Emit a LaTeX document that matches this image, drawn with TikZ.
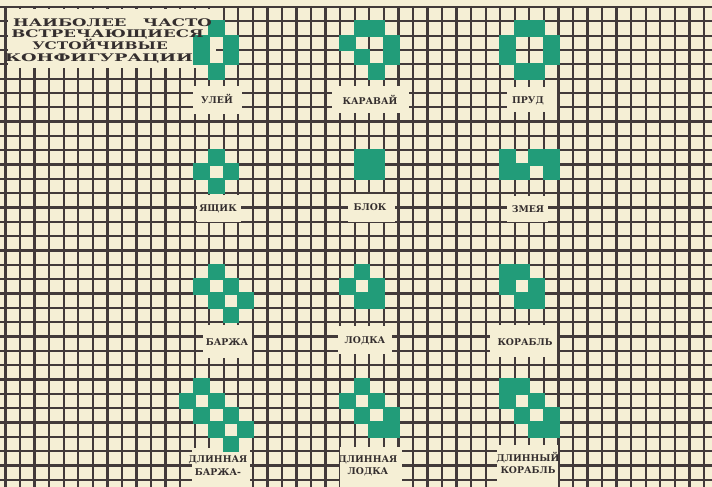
\documentclass[tikz,border=0pt]{standalone}
\usepackage{fontspec}
\newfontfamily\cyrserif{DejaVu Serif}
\definecolor{paper}{RGB}{245,239,213}
\definecolor{gridink}{RGB}{66,58,58}
\definecolor{cellgreen}{RGB}{34,156,121}
\definecolor{printink}{RGB}{52,46,46}
\tikzset{
  gridline/.style={draw=gridink, line width=2.3pt},
  cellfill/.style={fill=cellgreen},
  blank/.style={fill=paper},
  nametxt/.style={font=\cyrserif\bfseries\fontsize{9.3}{11}\selectfont,
    text=printink, inner sep=0pt, anchor=base},
  headtxt/.style={font=\cyrserif\bfseries\fontsize{10.5}{12}\selectfont,
    text=printink, inner sep=0pt, anchor=base},
}
\newcommand{\lifecell}[2]{\fill[cellfill] (#1-0.08,#2-0.08) rectangle (#1+1.08,#2+1.08);}
\newcommand{\blankbox}[4]{\fill[blank] (#1,#2) rectangle (#3,#4);}

\begin{document}
\begin{tikzpicture}[x=1pt, y=-1pt]
  \useasboundingbox (0,0) rectangle (712,487);
  \fill[paper] (0,0) rectangle (712,487);

  %% ---- grid (cell units) ----
  \begin{scope}[shift={(5.5,7)}, x=14.55pt, y=-14.33pt]
    \foreach \i in {0,...,48} \draw[gridline] (\i,-0.08) -- (\i,33.6);
    \foreach \j in {0,...,33} \draw[gridline] (-0.4,\j) -- (48.6,\j);
  \end{scope}

  %% ---- title panel and name plates ----
  \blankbox{7.5}{9.5}{216}{68}
  \blankbox{193}{86}{242}{114}
  \blankbox{332}{86}{409}{113}
  \blankbox{507}{87}{557}{112}
  \blankbox{197}{195}{241}{222}
  \blankbox{348}{194}{395}{222}
  \blankbox{507}{196}{548}{222}
  \blankbox{203}{325}{252}{358}
  \blankbox{338}{326}{392}{354}
  \blankbox{490}{325}{557}{357}
  \blankbox{192}{448}{250}{487}
  \blankbox{340}{447}{402}{487}
  \blankbox{497}{445}{558}{487}

  %% ---- live cells (cell units) ----
  \begin{scope}[shift={(5.5,7)}, x=14.55pt, y=-14.33pt]
    % beehive, loaf, pond
    \foreach \c/\r in {14/1, 13/2, 15/2, 13/3, 15/3, 14/4} {\lifecell{\c}{\r}}
    \foreach \c/\r in {24/1, 25/1, 23/2, 26/2, 24/3, 26/3, 25/4} {\lifecell{\c}{\r}}
    \foreach \c/\r in {35/1, 36/1, 34/2, 37/2, 34/3, 37/3, 35/4, 36/4} {\lifecell{\c}{\r}}
    % tub, block, snake
    \foreach \c/\r in {14/10, 13/11, 15/11, 14/12} {\lifecell{\c}{\r}}
    \foreach \c/\r in {24/10, 25/10, 24/11, 25/11} {\lifecell{\c}{\r}}
    \foreach \c/\r in {34/10, 36/10, 37/10, 34/11, 35/11, 37/11} {\lifecell{\c}{\r}}
    % barge, boat, ship
    \foreach \c/\r in {14/18, 13/19, 15/19, 14/20, 16/20, 15/21} {\lifecell{\c}{\r}}
    \foreach \c/\r in {24/18, 23/19, 25/19, 24/20, 25/20} {\lifecell{\c}{\r}}
    \foreach \c/\r in {34/18, 35/18, 34/19, 36/19, 35/20, 36/20} {\lifecell{\c}{\r}}
    % long barge, long boat, long ship
    \foreach \c/\r in {13/26, 12/27, 14/27, 13/28, 15/28, 14/29, 16/29, 15/30} {\lifecell{\c}{\r}}
    \foreach \c/\r in {24/26, 23/27, 25/27, 24/28, 26/28, 25/29, 26/29} {\lifecell{\c}{\r}}
    \foreach \c/\r in {34/26, 35/26, 34/27, 36/27, 35/28, 37/28, 36/29, 37/29} {\lifecell{\c}{\r}}
  \end{scope}

  %% ---- title ----
  \node[headtxt, xscale=1.58] (head1) at (112.5,26.5) {НАИБОЛЕЕ\hspace{1em}ЧАСТО};
  \node[headtxt, xscale=1.58] (head2) at (107.5,37.8) {ВСТРЕЧАЮЩИЕСЯ};
  \node[headtxt, xscale=1.46] (head3) at (100,49.5)   {УСТОЙЧИВЫЕ};
  \node[headtxt, xscale=1.70] (head4) at (99,61.5)    {КОНФИГУРАЦИИ};

  %% ---- names ----
  \node[nametxt] (beehive) at (217,103.5) {УЛЕЙ};
  \node[nametxt] (loaf)    at (370,104)   {КАРАВАЙ};
  \node[nametxt] (pond)    at (528,103.5) {ПРУД};
  \node[nametxt] (tub)     at (218,211.5) {ЯЩИК};
  \node[nametxt] (block)   at (370,210.5) {БЛОК};
  \node[nametxt] (snake)   at (528,212)   {ЗМЕЯ};
  \node[nametxt] (barge)   at (227,345)   {БАРЖА};
  \node[nametxt] (boat)    at (365,343.5) {ЛОДКА};
  \node[nametxt] (ship)    at (525,345)   {КОРАБЛЬ};
  \node[nametxt] (lbarge1) at (218,462)   {ДЛИННАЯ};
  \node[nametxt] (lbarge2) at (218,475)   {БАРЖА-};
  \node[nametxt] (lboat1)  at (368,462)   {ДЛИННАЯ};
  \node[nametxt] (lboat2)  at (368,474)   {ЛОДКА};
  \node[nametxt] (lship1)  at (528,461)   {ДЛИННЫЙ};
  \node[nametxt] (lship2)  at (528,473.5) {КОРАБЛЬ};
\end{tikzpicture}
\end{document}
